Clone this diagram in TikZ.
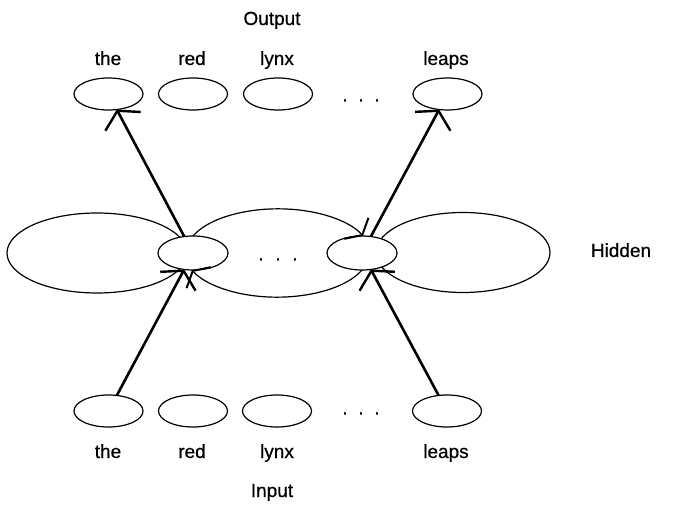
\documentclass[tikz,border=0pt]{standalone}
\usepackage{fontspec}
\setmainfont{Liberation Sans}
\newfontfamily\labfont[FakeBold=0.6]{Liberation Sans}
\usetikzlibrary{arrows.meta,shapes.geometric}

\begin{document}
\begin{tikzpicture}[x=1pt,y=-1pt,
  unit/.style={draw, ellipse, line width=1.2pt, minimum width=69pt, minimum height=32pt, inner sep=0pt, outer sep=0pt, fill=white},
  hid/.style={draw, ellipse, line width=1.2pt, minimum width=70pt, minimum height=34pt, inner sep=0pt, outer sep=0pt, fill=white},
  ring/.style={line width=1.2pt},
  conn/.style={line width=2.6pt, -{Straight Barb[length=12pt,width=40pt,line width=2.4pt]}},
  lab/.style={font=\labfont\fontsize{19}{22}\selectfont, anchor=base, inner sep=0pt},
]
\useasboundingbox (0,0) rectangle (673,505);

% layer titles
\node[lab] (tout) at (272,25) {Output};
\node[lab] (tin) at (272,497) {Input};
\node[lab] (thid) at (621,257) {Hidden};

% recurrent loops on both sides of the hidden units
\draw[ring] (97,253) ellipse[x radius=90, y radius=40];
\draw[ring] (463,252.5) ellipse[x radius=87, y radius=40];

% hidden units
\node[hid] (hl) at (193,253) {};
\node[hid] (hr) at (362,253) {};

% connections between the two hidden units
\draw[ring, -{Straight Barb[length=9pt,width=32pt,line width=2pt]}]
  (hl.north) arc[start angle=-157.5, end angle=-22.5, x radius=92, y radius=44];
\draw[ring, -{Straight Barb[length=9pt,width=32pt,line width=2pt]}]
  (hr.south) arc[start angle=22.5, end angle=157.5, x radius=92, y radius=44];
\node[lab] (hdots) at (278,260.5) {.\hspace{11.7pt}.\hspace{11.7pt}.};

% output units
\node[unit] (othe) at (108.5,94) {};
\node[unit] (ored) at (193,94) {};
\node[unit] (olynx) at (278,94) {};
\node[unit] (oleaps) at (447.5,94) {};
\node[lab] (odots) at (361,101.5) {.\hspace{10.7pt}.\hspace{10.7pt}.};
\node[lab] at (108,65) {the};
\node[lab] at (192,65) {red};
\node[lab] at (277,65) {lynx};
\node[lab] at (446,65) {leaps};

% input units
\node[unit] (ithe) at (108.5,411) {};
\node[unit] (ired) at (193,411) {};
\node[unit] (ilynx) at (277,411) {};
\node[unit] (ileaps) at (447,411) {};
\node[lab] (idots) at (361,414.5) {.\hspace{10.7pt}.\hspace{10.7pt}.};
\node[lab] at (108,458) {the};
\node[lab] at (192,458) {red};
\node[lab] at (277,458) {lynx};
\node[lab] at (446,458) {leaps};

% feed-forward connections
\draw[conn] (ithe) -- (hl);
\draw[conn] (hl) -- (othe);
\draw[conn] (ileaps) -- (hr);
\draw[conn] (hr) -- (oleaps);
\end{tikzpicture}
\end{document}
